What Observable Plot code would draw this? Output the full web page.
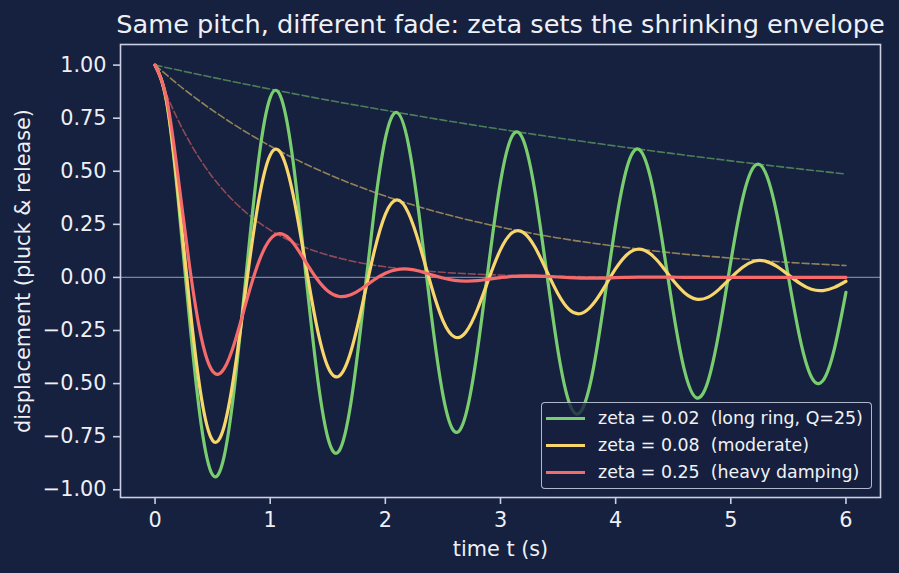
<!DOCTYPE html>
<html>
<head>
<meta charset="utf-8">
<script src="https://cdn.jsdelivr.net/npm/d3@7"></script>
<script src="https://cdn.jsdelivr.net/npm/@observablehq/plot@0.6"></script>
<style>
  html, body { margin: 0; padding: 0; background: #16203f; }
  #wrap { position: relative; width: 899px; height: 573px; background: #16203f; overflow: hidden; }
  #legend {
    position: absolute; left: 541px; top: 402px; width: 329px; height: 85px;
    border: 1.5px solid rgba(204, 211, 228, 0.85); border-radius: 4px;
    background: rgba(22, 32, 63, 0.8);
    font-family: "DejaVu Sans", sans-serif; font-size: 17.4px; color: #f0f2f7;
  }
  #legend .row { position: absolute; left: 0; height: 27px; line-height: 27px; white-space: pre; }
  #legend .swatch { position: absolute; left: 4px; top: 12px; width: 39px; height: 3.3px; }
  #legend .lab { position: absolute; left: 56px; top: 0; }
</style>
</head>
<body>
<div id="wrap">
  <div id="chart"></div>
  <div id="legend"></div>
</div>
<script>
// Sample times (s) for the three plucked-string responses
const times = [
  0.0, 0.1, 0.2, 0.3, 0.4, 0.5, 0.6, 0.7, 0.8, 0.9,
  1.0, 1.1, 1.2, 1.3, 1.4, 1.5, 1.6, 1.7, 1.8, 1.9,
  2.0, 2.1, 2.2, 2.3, 2.4, 2.5, 2.6, 2.7, 2.8, 2.9,
  3.0, 3.1, 3.2, 3.3, 3.4, 3.5, 3.6, 3.7, 3.8, 3.9,
  4.0, 4.1, 4.2, 4.3, 4.4, 4.5, 4.6, 4.7, 4.8, 4.9,
  5.0, 5.1, 5.2, 5.3, 5.4, 5.5, 5.6, 5.7, 5.8, 5.9,
  6.0
];

// Displacement, zeta = 0.02 (long ring)
const lightDamping = [
  1.000, 0.827, 0.372, -0.200, -0.690, -0.930, -0.843, -0.467, 0.061, 0.556,
  0.847, 0.838, 0.541, 0.063, -0.425, -0.754, -0.816, -0.594, -0.172, 0.299,
  0.655, 0.777, 0.628, 0.265, -0.180, -0.553, -0.726, -0.644, -0.342, 0.071,
  0.450, 0.665, 0.644, 0.402, 0.027, -0.349, -0.595, -0.630, -0.447, -0.113,
  0.251, 0.521, 0.604, 0.476, 0.188, -0.159, -0.443, -0.567, -0.492, -0.249,
  0.074, 0.364, 0.521, 0.495, 0.298, 0.004, -0.286, -0.469, -0.486, -0.335,
  -0.070
];

// Displacement, zeta = 0.08 (moderate)
const moderateDamping = [
  1.000, 0.831, 0.400, -0.124, -0.559, -0.768, -0.702, -0.408, -0.005, 0.362,
  0.576, 0.578, 0.387, 0.085, -0.218, -0.420, -0.464, -0.350, -0.129, 0.114,
  0.297, 0.365, 0.304, 0.148, -0.043, -0.203, -0.280, -0.257, -0.150, -0.004,
  0.131, 0.210, 0.211, 0.142, 0.032, -0.078, -0.153, -0.170, -0.128, -0.048,
  0.041, 0.108, 0.133, 0.111, 0.055, -0.015, -0.073, -0.102, -0.094, -0.055,
  -0.002, 0.047, 0.076, 0.077, 0.052, 0.012, -0.028, -0.056, -0.062, -0.047,
  -0.018
];

// Displacement, zeta = 0.25 (heavy damping)
const heavyDamping = [
  1.000, 0.843, 0.474, 0.052, -0.279, -0.442, -0.430, -0.291, -0.100, 0.072,
  0.180, 0.205, 0.162, 0.080, -0.003, -0.064, -0.090, -0.082, -0.051, -0.012,
  0.020, 0.037, 0.039, 0.029, 0.012, -0.003, -0.014, -0.017, -0.015, -0.008,
  -0.001, 0.005, 0.007, 0.007, 0.005, 0.002, -0.001, -0.003, -0.003, -0.003,
  -0.001, 0.000, 0.001, 0.001, 0.001, 0.001, 0.000, 0.000, 0.000, 0.000,
  0.000, 0.000, 0.000, 0.000, 0.000, 0.000, 0.000, 0.000, 0.000, 0.000,
  0.000
];

// Decay envelopes (dashed guides)
const envLightT = [0, 0.5, 1, 1.5, 2, 2.5, 3, 3.5, 4, 4.5, 5, 5.5, 6];
const envLight = [1, 0.942, 0.887, 0.835, 0.787, 0.741, 0.698, 0.657, 0.619, 0.583, 0.549, 0.517, 0.487];
const envModerateT = [0, 0.25, 0.5, 0.75, 1, 1.5, 2, 2.5, 3, 3.5, 4, 4.5, 5, 5.5, 6];
const envModerate = [1, 0.887, 0.787, 0.698, 0.619, 0.487, 0.383, 0.301, 0.237, 0.186, 0.147, 0.115, 0.091, 0.071, 0.056];
const envHeavyT = [0, 0.1, 0.2, 0.3, 0.4, 0.5, 0.6, 0.8, 1.0, 1.2, 1.4, 1.6, 1.8, 2.0, 2.5, 3.0, 3.5, 4.0, 5.0, 6.0];
const envHeavy = [1, 0.861, 0.741, 0.638, 0.549, 0.472, 0.407, 0.301, 0.223, 0.165, 0.122, 0.091, 0.067, 0.050, 0.024, 0.011, 0.005, 0.002, 0.001, 0.000];

const seriesLabels = [
  "zeta = 0.02  (long ring, Q=25)",
  "zeta = 0.08  (moderate)",
  "zeta = 0.25  (heavy damping)"
];
const seriesColors = ["#7acd6f", "#f7d66c", "#f56b6b"];

const xTicks = [0, 1, 2, 3, 4, 5, 6];
const yTicks = [-1, -0.75, -0.5, -0.25, 0, 0.25, 0.5, 0.75, 1];

const titleText = "Same pitch, different fade: zeta sets the shrinking envelope";
const xLabel = "time t (s)";
const yLabel = "displacement (pluck & release)";

const frameColor = "#c9d0e1";
const textColor = "#eef0f6";

const toRows = (ts, vs) => ts.map((t, i) => ({t, v: vs[i]}));
const curves = [lightDamping, moderateDamping, heavyDamping].map(vs => toRows(times, vs));
const envelopes = [
  toRows(envLightT, envLight),
  toRows(envModerateT, envModerate),
  toRows(envHeavyT, envHeavy)
];

const marks = [
  Plot.ruleY([0], {stroke: "#7c8399", strokeWidth: 1.3}),
  ...envelopes.map((rows, i) => Plot.line(rows, {
    x: "t", y: "v", curve: "monotone-x",
    stroke: seriesColors[i], strokeOpacity: 0.55, strokeWidth: 1.6,
    strokeDasharray: "7,3"
  })),
  ...curves.map((rows, i) => Plot.line(rows, {
    x: "t", y: "v", curve: "natural",
    stroke: seriesColors[i], strokeWidth: 3.2
  })),
  Plot.frame({stroke: frameColor, strokeWidth: 1.6}),
  Plot.axisX({
    ticks: xTicks, tickFormat: d => String(d), label: null,
    tickSize: 7, tickPadding: 8, stroke: frameColor, strokeWidth: 1.6, fill: textColor
  }),
  Plot.axisY({
    ticks: yTicks, tickFormat: d3.format(".2f"), label: null,
    tickSize: 7, tickPadding: 7, stroke: frameColor, strokeWidth: 1.6, fill: textColor
  }),
  Plot.text([titleText], {
    text: d => d, frameAnchor: "top", dy: -20,
    textAnchor: "middle", lineAnchor: "middle", fontSize: 25.6, fill: textColor
  }),
  Plot.text([xLabel], {
    text: d => d, frameAnchor: "bottom", dy: 52,
    textAnchor: "middle", lineAnchor: "middle", fontSize: 20.8, fill: textColor
  }),
  Plot.text([yLabel], {
    text: d => d, frameAnchor: "left", dx: -97, rotate: -90,
    textAnchor: "middle", lineAnchor: "middle", fontSize: 20.8, fill: textColor
  })
];

const chart = Plot.plot({
  width: 899,
  height: 573,
  marginLeft: 120,
  marginRight: 19,
  marginTop: 44,
  marginBottom: 76,
  x: {domain: [-0.3, 6.3]},
  y: {domain: [-1.0365, 1.097]},
  style: {
    background: "transparent",
    color: textColor,
    fontFamily: "'DejaVu Sans', sans-serif",
    fontSize: "20.8px"
  },
  marks
});
document.getElementById("chart").appendChild(chart);

// Legend box in the lower right
const legend = document.getElementById("legend");
seriesLabels.forEach((label, i) => {
  const row = document.createElement("div");
  row.className = "row";
  row.style.top = (2 + i * 27) + "px";
  row.style.width = "100%";
  const sw = document.createElement("span");
  sw.className = "swatch";
  sw.style.background = seriesColors[i];
  const lab = document.createElement("span");
  lab.className = "lab";
  lab.textContent = label;
  row.appendChild(sw);
  row.appendChild(lab);
  legend.appendChild(row);
});
</script>
</body>
</html>
